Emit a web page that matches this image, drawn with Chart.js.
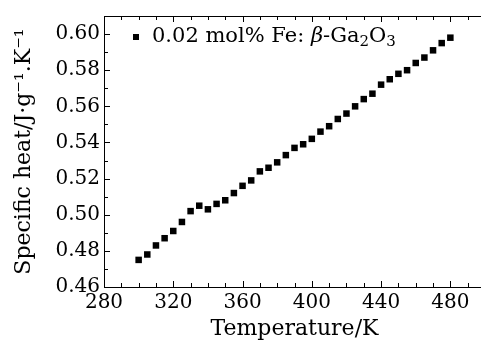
<!DOCTYPE html>
<html>
<head>
<meta charset="utf-8">
<script src="https://cdn.jsdelivr.net/npm/chart.js@4.4.1/dist/chart.umd.min.js"></script>
<style>
html,body{margin:0;padding:0;overflow:hidden;background:#fff;width:481px;height:343px;}
canvas{display:block;}
</style>
</head>
<body>
<canvas id="c" width="490" height="343"></canvas>
<script>
const temperatures = [300,305,310,315,320,325,330,335,340,345,350,355,360,365,370,375,380,385,390,395,400,405,410,415,420,425,430,435,440,445,450,455,460,465,470,475,480];
const specificHeat = [0.475,0.478,0.483,0.487,0.491,0.496,0.502,0.505,0.503,0.506,0.508,0.512,0.516,0.519,0.524,0.526,0.529,0.533,0.537,0.539,0.542,0.546,0.549,0.553,0.556,0.560,0.564,0.567,0.572,0.575,0.578,0.580,0.584,0.587,0.591,0.595,0.598];
const xTickLabels = [280,320,360,400,440,480];
const yTickLabels = [0.46,0.48,0.50,0.52,0.54,0.56,0.58,0.60];
const seriesLabel = "0.02 mol% Fe: β-Ga₂O₃";
const xTitle = "Temperature/K";
const yTitle = "Specific heat/J·g⁻¹.K⁻¹";

const FONT = "'DejaVu Serif', serif";

const frameTicks = {
  id: 'frameTicks',
  afterDraw(chart) {
    const {ctx, chartArea: ca, scales: {x, y}} = chart;
    ctx.save();
    ctx.strokeStyle = '#000';
    ctx.lineWidth = 1;
    // top border
    ctx.beginPath();
    ctx.moveTo(ca.left, ca.top + 0.5);
    ctx.lineTo(ca.right, ca.top + 0.5);
    ctx.stroke();
    // x ticks (inward, bottom and top)
    for (let v = x.min; v <= x.max + 1e-9; v += 10) {
      const px = Math.round(x.getPixelForValue(v)) + 0.5;
      const len = ((v - 280) % 40 === 0) ? 6 : 4;
      ctx.beginPath();
      ctx.moveTo(px, ca.bottom);
      ctx.lineTo(px, ca.bottom - len);
      ctx.moveTo(px, ca.top);
      ctx.lineTo(px, ca.top + len);
      ctx.stroke();
    }
    // y ticks (inward)
    for (let i = 0; ; i++) {
      const v = y.min + i * 0.01;
      if (v > y.max + 1e-9) break;
      const py = Math.round(y.getPixelForValue(v)) + 0.5;
      const len = (i % 2 === 0) ? 6 : 4;
      ctx.beginPath();
      ctx.moveTo(ca.left, py);
      ctx.lineTo(ca.left + len, py);
      ctx.stroke();
    }
    // legend
    const lx = 133, ly = 37;
    ctx.fillStyle = '#000';
    ctx.fillRect(lx, ly - 3, 6, 6);
    ctx.textBaseline = 'middle';
    ctx.textAlign = 'left';
    let tx = 152;
    const parts = [
      {t: '0.02 mol% Fe: ', f: "21px " + FONT, dy: 0},
      {t: 'β', f: "italic 21px " + FONT, dy: 0},
      {t: '-Ga', f: "21px " + FONT, dy: 0},
      {t: '2', f: "15px " + FONT, dy: 5},
      {t: 'O', f: "21px " + FONT, dy: 0},
      {t: '3', f: "15px " + FONT, dy: 5}
    ];
    for (const p of parts) {
      ctx.font = p.f;
      ctx.fillText(p.t, tx, ly + p.dy);
      tx += ctx.measureText(p.t).width;
    }
    ctx.restore();
  }
};

new Chart(document.getElementById('c'), {
  type: 'scatter',
  data: {
    datasets: [{
      label: seriesLabel,
      data: temperatures.map((t, i) => ({x: t, y: specificHeat[i]})),
      pointStyle: 'rect',
      pointRadius: 4.6,
      pointHoverRadius: 4.6,
      backgroundColor: '#000',
      borderColor: '#000',
      borderWidth: 0,
      showLine: false
    }]
  },
  options: {
    responsive: false,
    animation: false,
    devicePixelRatio: 1,
    layout: {padding: {top: 12, right: 5, left: 0, bottom: 0}},
    plugins: {legend: {display: false}, tooltip: {enabled: false}},
    scales: {
      x: {
        type: 'linear',
        min: 280,
        max: 500,
        afterFit(s) { s.height = 56; },
        grid: {display: false, drawTicks: false},
        border: {display: true, color: '#000', width: 1},
        ticks: {
          stepSize: 40,
          includeBounds: false,
          padding: 4,
          color: '#000',
          font: {family: FONT, size: 20},
          callback: v => xTickLabels.includes(v) ? String(v) : ''
        },
        title: {display: true, text: xTitle, color: '#000', font: {family: FONT, size: 22}, padding: {top: 0, bottom: 1}}
      },
      y: {
        type: 'linear',
        min: 0.46,
        max: 0.61,
        afterFit(s) { s.width = 104; },
        grid: {display: false, drawTicks: false},
        border: {display: true, color: '#000', width: 1},
        ticks: {
          stepSize: 0.02,
          includeBounds: false,
          padding: 4,
          color: '#000',
          font: {family: FONT, size: 20},
          callback: v => {
            const r = Math.round(v * 100) / 100;
            return yTickLabels.some(t => Math.abs(t - r) < 1e-9) ? r.toFixed(2) : '';
          }
        },
        title: {display: true, text: yTitle, color: '#000', font: {family: FONT, size: 22}, padding: {top: 11, bottom: 0}}
      }
    }
  },
  plugins: [frameTicks]
});
</script>
</body>
</html>
